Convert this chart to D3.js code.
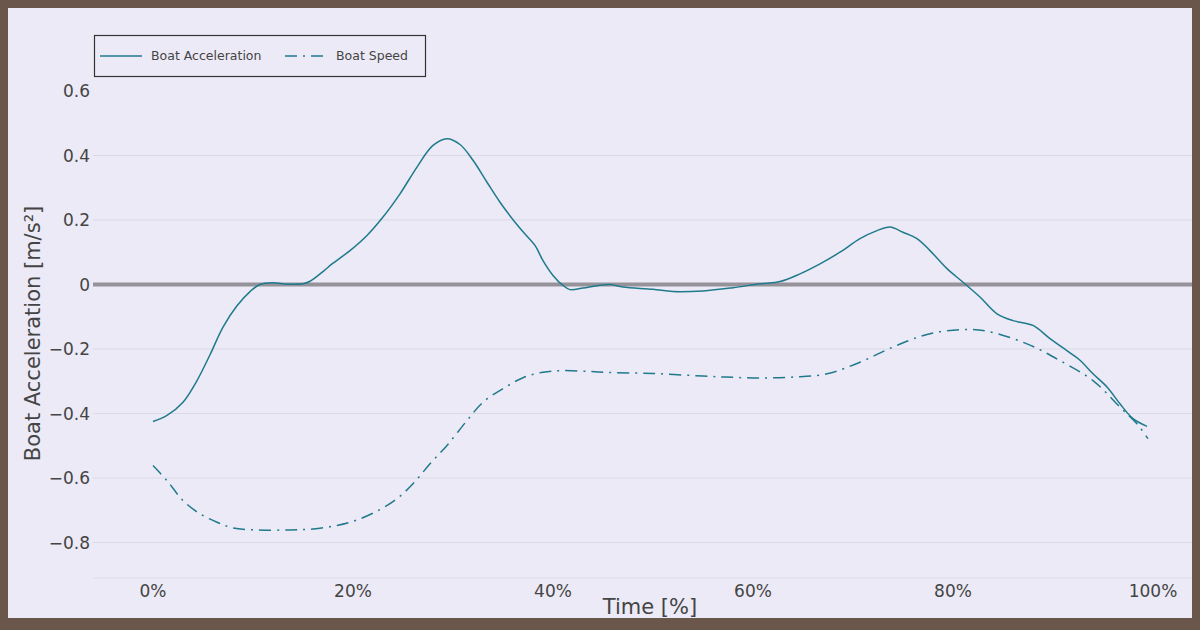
<!doctype html>
<html lang="en">

<head>
    <meta charset="UTF-8" />
    <script src="https://d3js.org/d3.v7.min.js"></script>
    <title>Boat Acceleration</title>
    <style>
        body { margin: 0; }
    </style>
</head>

<body>
    <div id="chart"></div>
    <script type="module">
        // Data (time in % of the stroke)
        const accelTime = [0, 1.4, 3.0, 4.4, 5.7, 7.0, 8.4, 9.7, 10.7, 12, 13.4, 15, 15.7, 17, 18, 19.7,
            21.4, 23, 24.7, 26.4, 28, 29.4, 30.7, 32, 33.4, 34.7, 36.7, 38.2, 39, 40, 41, 41.7, 43,
            44.4, 45.7, 47, 50, 52, 55, 58, 60.7, 62.7, 64.7, 66.7, 68.7, 70.7, 72.4, 73.7, 75, 76.4,
            77.7, 79.4, 81, 82.7, 84.4, 86, 88, 89.7, 91.7, 92.7, 94, 95.4, 96.7, 98, 99.4]
        const accelValues = [-0.425, -0.406, -0.365, -0.298, -0.218, -0.132, -0.066, -0.022, 0.0, 0.005,
            0.001, 0.002, 0.01, 0.04, 0.066, 0.105, 0.152, 0.209, 0.281, 0.364, 0.431, 0.452, 0.434,
            0.385, 0.317, 0.255, 0.174, 0.121, 0.074, 0.028, -0.003, -0.016, -0.011, -0.004, 0.0,
            -0.008, -0.015, -0.022, -0.02, -0.01, 0.002, 0.009, 0.033, 0.064, 0.1, 0.142, 0.167, 0.178,
            0.162, 0.142, 0.105, 0.049, 0.007, -0.039, -0.091, -0.112, -0.127, -0.168, -0.212, -0.235,
            -0.277, -0.318, -0.37, -0.416, -0.44]

        const speedTime = [0, 1.4, 3.0, 4.7, 6.4, 8.0, 10.4, 13.7, 16, 18.4, 20.4, 22.7, 24.4, 26, 27.7,
            29.4, 31.4, 33, 35, 37, 39, 41, 43.7, 45.7, 50, 55, 58, 60.7, 64, 67.4, 70.7, 74, 77.4,
            80.7, 83.4, 87.4, 90.7, 94, 96.7, 98.4, 99.5]
        const speedValues = [-0.561, -0.608, -0.67, -0.711, -0.737, -0.755, -0.761, -0.761, -0.758,
            -0.747, -0.73, -0.698, -0.664, -0.618, -0.556, -0.499, -0.422, -0.365, -0.323, -0.289,
            -0.272, -0.267, -0.27, -0.273, -0.276, -0.284, -0.288, -0.29, -0.287, -0.277, -0.241,
            -0.194, -0.155, -0.14, -0.145, -0.184, -0.236, -0.298, -0.38, -0.432, -0.478]

        const xTicks = [0, 20, 40, 60, 80, 100]
        const yTicks = [-0.8, -0.6, -0.4, -0.2, 0, 0.2, 0.4, 0.6]
        const seriesNames = ["Boat Acceleration", "Boat Speed"]

        const W = 1200
        const H = 630
        const FONT = "DejaVu Sans, Verdana, sans-serif"
        const lineColor = "#1f7a8c"
        const textColor = "#444"

        const svg = d3.select("#chart")
            .append("svg")
            .attr("width", W)
            .attr("height", H)

        // brown frame + lavender paper
        svg.append("rect").attr("width", W).attr("height", H).attr("fill", "#6b564c")
        svg.append("rect")
            .attr("x", 8).attr("y", 8)
            .attr("width", 1184).attr("height", 610)
            .attr("fill", "#eceaf6")

        const x = d3.scaleLinear().domain([-6, 104]).range([93, 1193])
        const y = d3.scaleLinear().domain([-0.91, 0.606]).range([578, 89])

        const plot = svg.append("g")

        const clip = svg.append("clipPath").attr("id", "frame")
        clip.append("rect").attr("x", 8).attr("y", 8).attr("width", 1184).attr("height", 610)
        plot.attr("clip-path", "url(#frame)")

        // gridlines
        plot.selectAll(".grid")
            .data(yTicks.filter(d => d !== 0 && d < 0.6))
            .enter()
            .append("line")
            .attr("x1", x.range()[0])
            .attr("x2", x.range()[1])
            .attr("y1", d => y(d))
            .attr("y2", d => y(d))
            .attr("stroke", "#dbd9e6")
            .attr("stroke-width", 1)

        // bottom edge line
        plot.append("line")
            .attr("x1", x.range()[0]).attr("x2", x.range()[1])
            .attr("y1", y.range()[0]).attr("y2", y.range()[0])
            .attr("stroke", "#dbd9e6")

        // zero line
        plot.append("line")
            .attr("x1", x.range()[0]).attr("x2", x.range()[1])
            .attr("y1", y(0)).attr("y2", y(0))
            .attr("stroke", "#969299")
            .attr("stroke-width", 4)

        // y tick labels
        svg.append("g")
            .selectAll("text")
            .data(yTicks)
            .enter()
            .append("text")
            .attr("x", 90)
            .attr("y", d => y(d))
            .attr("dy", "0.36em")
            .attr("text-anchor", "end")
            .attr("font-family", FONT)
            .attr("font-size", "17px")
            .attr("fill", textColor)
            .text(d => d === 0 ? "0" : d3.format(".1f")(d).replace("-", "\u2212"))

        // x tick labels
        svg.append("g")
            .selectAll("text")
            .data(xTicks)
            .enter()
            .append("text")
            .attr("x", d => x(d))
            .attr("y", 597)
            .attr("text-anchor", "middle")
            .attr("font-family", FONT)
            .attr("font-size", "17px")
            .attr("fill", textColor)
            .text(d => d + "%")

        // axis titles
        svg.append("text")
            .attr("x", 650)
            .attr("y", 614)
            .attr("text-anchor", "middle")
            .attr("font-family", FONT)
            .attr("font-size", "21px")
            .attr("fill", textColor)
            .text("Time [%]")

        svg.append("text")
            .attr("transform", `translate(33, ${(y.range()[0] + y.range()[1]) / 2}) rotate(-90)`)
            .attr("text-anchor", "middle")
            .attr("dominant-baseline", "central")
            .attr("font-family", FONT)
            .attr("font-size", "21px")
            .attr("fill", textColor)
            .text("Boat Acceleration [m/s²]")

        // lines
        const line = d3.line()
            .x(d => x(d[0]))
            .y(d => y(d[1]))
            .curve(d3.curveCatmullRom.alpha(0.5))

        const speedDash = "12,6,2,6"

        plot.append("path")
            .datum(d3.zip(speedTime, speedValues))
            .attr("d", line)
            .attr("fill", "none")
            .attr("stroke", lineColor)
            .attr("stroke-width", 1.5)
            .attr("stroke-dasharray", speedDash)

        plot.append("path")
            .datum(d3.zip(accelTime, accelValues))
            .attr("d", line)
            .attr("fill", "none")
            .attr("stroke", lineColor)
            .attr("stroke-width", 1.5)

        // legend
        const legend = svg.append("g")
        legend.append("rect")
            .attr("x", 94.5).attr("y", 35.5)
            .attr("width", 331).attr("height", 41)
            .attr("fill", "#eceaf6")
            .attr("stroke", "#333")
            .attr("stroke-width", 1.2)

        const legendItems = [
            { name: seriesNames[0], x: 100, dash: null },
            { name: seriesNames[1], x: 285, dash: speedDash }
        ]
        legendItems.forEach(item => {
            legend.append("line")
                .attr("x1", item.x).attr("x2", item.x + 42)
                .attr("y1", 56).attr("y2", 56)
                .attr("stroke", lineColor)
                .attr("stroke-width", 1.5)
                .attr("stroke-dasharray", item.dash)
            legend.append("text")
                .attr("x", item.x + 51)
                .attr("y", 56)
                .attr("dy", "0.35em")
                .attr("font-family", FONT)
                .attr("font-size", "12.5px")
                .attr("fill", textColor)
                .text(item.name)
        })
    </script>
</body>

</html>
